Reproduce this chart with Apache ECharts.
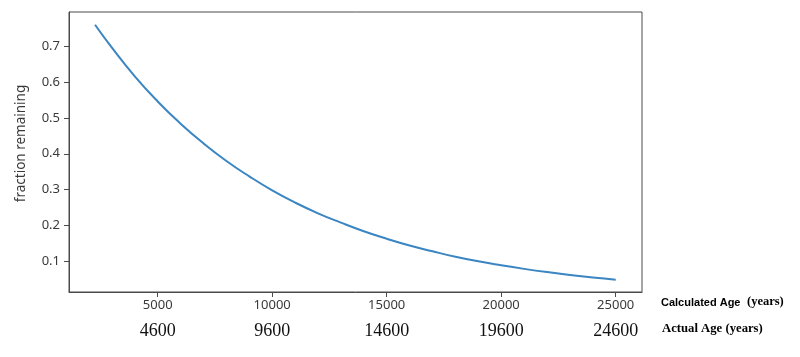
<!DOCTYPE html>
<html>
<head>
<meta charset="utf-8">
<script src="https://cdn.jsdelivr.net/npm/echarts@6/dist/echarts.min.js"></script>
<style>
html,body{margin:0;padding:0;background:#fff;}
#chart{width:800px;height:357px;}
</style>
</head>
<body>
<div id="chart"></div>
<script>
// Data
var ages = [2264, 3000, 4000, 5000, 6000, 7000, 8000, 9000, 10000, 11000, 12000, 13000,
            14000, 15000, 16000, 17000, 18000, 19000, 20000, 21000, 22000, 23000, 24000, 25000];
var fractions = [0.760, 0.696, 0.616, 0.546, 0.484, 0.429, 0.380, 0.337, 0.298, 0.264, 0.234, 0.208,
                 0.184, 0.163, 0.144, 0.128, 0.113, 0.100, 0.089, 0.079, 0.070, 0.062, 0.055, 0.049];
var calcTicks = [5000, 10000, 15000, 20000, 25000];
var actualTickLabels = ['4600', '9600', '14600', '19600', '24600'];
var yTicks = [0.1, 0.2, 0.3, 0.4, 0.5, 0.6, 0.7];

var xMin = 1127, xMax = 26148, yMin = 0.0145, yMax = 0.7955;

var points = ages.map(function (a, i) { return [a, fractions[i]]; });

var chart = echarts.init(document.getElementById('chart'), null, {renderer: 'canvas'});
chart.setOption({
  animation: false,
  backgroundColor: '#ffffff',
  grid: {left: 69, top: 12, width: 573, height: 280, show: true, borderColor: '#4a4a4a', borderWidth: 1, backgroundColor: 'transparent'},
  xAxis: [{
    type: 'value', min: xMin, max: xMax, position: 'bottom',
    axisLine: {show: true, lineStyle: {color: '#4a4a4a', width: 1}},
    axisTick: {show: true, length: 5, customValues: calcTicks, lineStyle: {color: '#4a4a4a'}},
    axisLabel: {customValues: calcTicks, margin: 6.5, fontFamily: 'Noto Sans', fontSize: 13, color: '#3a3a3a',
      formatter: function (v) { return String(Math.round(v)); }},
    splitLine: {show: false}
  }, {
    type: 'value', min: xMin, max: xMax, position: 'bottom', offset: 22,
    axisLine: {show: false}, axisTick: {show: false},
    axisLabel: {customValues: calcTicks, margin: 8, fontFamily: 'Liberation Serif', fontSize: 18, color: '#111111',
      formatter: function (v) { var i = calcTicks.indexOf(Math.round(v)); return i >= 0 ? actualTickLabels[i] : ''; }},
    splitLine: {show: false}
  }],
  yAxis: {
    type: 'value', min: yMin, max: yMax,
    axisLine: {show: true, lineStyle: {color: '#4a4a4a', width: 1}},
    axisTick: {show: true, length: 5, customValues: yTicks, lineStyle: {color: '#4a4a4a'}},
    axisLabel: {customValues: yTicks, margin: 9, fontFamily: 'Noto Sans', fontSize: 13, color: '#3a3a3a',
      formatter: function (v) { return v.toFixed(1); }},
    splitLine: {show: false}
  },
  series: [{
    type: 'line', xAxisIndex: 0, data: points, smooth: true, showSymbol: false,
    lineStyle: {color: '#3a85c2', width: 2}
  }],
  graphic: [{
    type: 'text', x: 21.5, y: 143.5, rotation: Math.PI / 2,
    style: {text: 'fraction remaining', fontFamily: 'Noto Sans', fontSize: 13.5, fill: '#3a3a3a',
      align: 'center', verticalAlign: 'middle'}
  }, {
    type: 'text', left: 661, top: 297,
    style: {text: 'Calculated Age', fontFamily: 'Liberation Sans', fontWeight: 'bold', fontSize: 11, fill: '#000000'}
  }, {
    type: 'text', left: 747, top: 295.5,
    style: {text: '(years)', fontFamily: 'Liberation Serif', fontWeight: 'bold', fontSize: 12.5, fill: '#000000'}
  }, {
    type: 'text', left: 662, top: 322,
    style: {text: 'Actual Age (years)', fontFamily: 'Liberation Serif', fontWeight: 'bold', fontSize: 12.7, fill: '#000000'}
  }]
});
</script>
</body>
</html>
